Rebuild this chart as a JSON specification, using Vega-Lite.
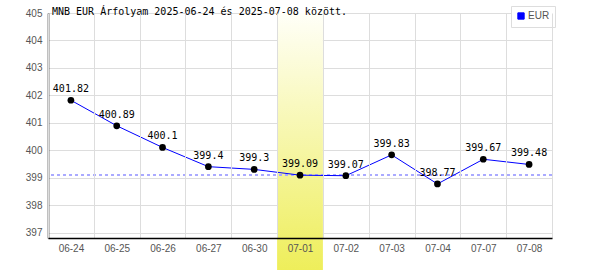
{
  "$schema": "https://vega.github.io/schema/vega-lite/v6.json",
  "autosize": {"type": "none"},
  "width": 504,
  "height": 225,
  "padding": {"left": 48, "top": 13, "right": 48, "bottom": 32},
  "background": "#ffffff",
  "config": {
    "view": {"stroke": null},
    "axis": {"gridColor": "#dddddd", "gridWidth": 1, "labelColor": "#555555", "labelFont": "Liberation Sans", "labelFontSize": 10, "domainColor": "#000000", "ticks": false}
  },
  "title": {"text": "MNB EUR Árfolyam 2025-06-24 és 2025-07-08 között.", "anchor": "start", "frame": "group", "font": "DejaVu Sans Mono", "fontSize": 10, "fontWeight": "normal", "color": "#000000", "baseline": "alphabetic", "offset": -19, "dx": 4},
  "data": {"values": [
    {"d": "06-24", "v": 401.82, "c": "EUR"},
    {"d": "06-25", "v": 400.89, "c": "EUR"},
    {"d": "06-26", "v": 400.1, "c": "EUR"},
    {"d": "06-27", "v": 399.4, "c": "EUR"},
    {"d": "06-30", "v": 399.3, "c": "EUR"},
    {"d": "07-01", "v": 399.09, "c": "EUR"},
    {"d": "07-02", "v": 399.07, "c": "EUR"},
    {"d": "07-03", "v": 399.83, "c": "EUR"},
    {"d": "07-04", "v": 398.77, "c": "EUR"},
    {"d": "07-07", "v": 399.67, "c": "EUR"},
    {"d": "07-08", "v": 399.48, "c": "EUR"}
  ]},
  "encoding": {
    "x": {"field": "d", "type": "ordinal", "title": null, "scale": {"paddingInner": 0, "paddingOuter": 0},
      "axis": {"labelAngle": 0, "grid": true, "tickBand": "extent", "labelPadding": 5, "domainWidth": 1.5, "zindex": 1}},
    "y": {"field": "v", "type": "quantitative", "title": null, "scale": {"domain": [396.8, 405], "nice": false, "zero": false},
      "axis": {"values": [397, 398, 399, 400, 401, 402, 403, 404, 405], "labelPadding": 6, "domainWidth": 1.5}}
  },
  "layer": [
    {
      "transform": [{"filter": "datum.d == '07-01'"}],
      "mark": {"type": "rect", "clip": false, "fill": {"gradient": "linear", "x1": 0, "y1": 0, "x2": 0, "y2": 1, "stops": [{"offset": 0, "color": "#fffff8"}, {"offset": 1, "color": "#eeee5a"}]}},
      "encoding": {"y": {"datum": 405}, "y2": {"datum": 395.62}}
    },
    {
      "mark": {"type": "rule", "color": "#aaaaff", "strokeDash": [3, 3], "strokeWidth": 1},
      "encoding": {"x": null, "y": {"datum": 399.09}}
    },
    {
      "mark": {"type": "line", "strokeWidth": 1},
      "encoding": {"color": {"field": "c", "type": "nominal", "scale": {"range": ["#0000ff"]},
        "legend": {"title": null, "orient": "none", "legendX": 463, "legendY": -7, "symbolType": "square", "symbolSize": 40, "symbolStrokeColor": "#000080", "symbolStrokeWidth": 1, "symbolFillColor": "#0000ff", "labelFont": "Liberation Sans", "labelFontSize": 10, "labelColor": "#555555", "labelOffset": 2, "padding": 5, "fillColor": "#ffffff", "strokeColor": "#dddddd",
          "encode": {"symbols": {"update": {"fill": {"value": "#0000ff"}, "stroke": {"value": "#000080"}}}}}}}
    },
    {
      "mark": {"type": "circle", "color": "#000000", "opacity": 1, "size": 45}
    },
    {
      "mark": {"type": "text", "font": "DejaVu Sans Mono", "fontSize": 10, "color": "#000000", "baseline": "alphabetic", "dy": -8},
      "encoding": {"text": {"field": "v", "type": "quantitative"}}
    }
  ]
}
